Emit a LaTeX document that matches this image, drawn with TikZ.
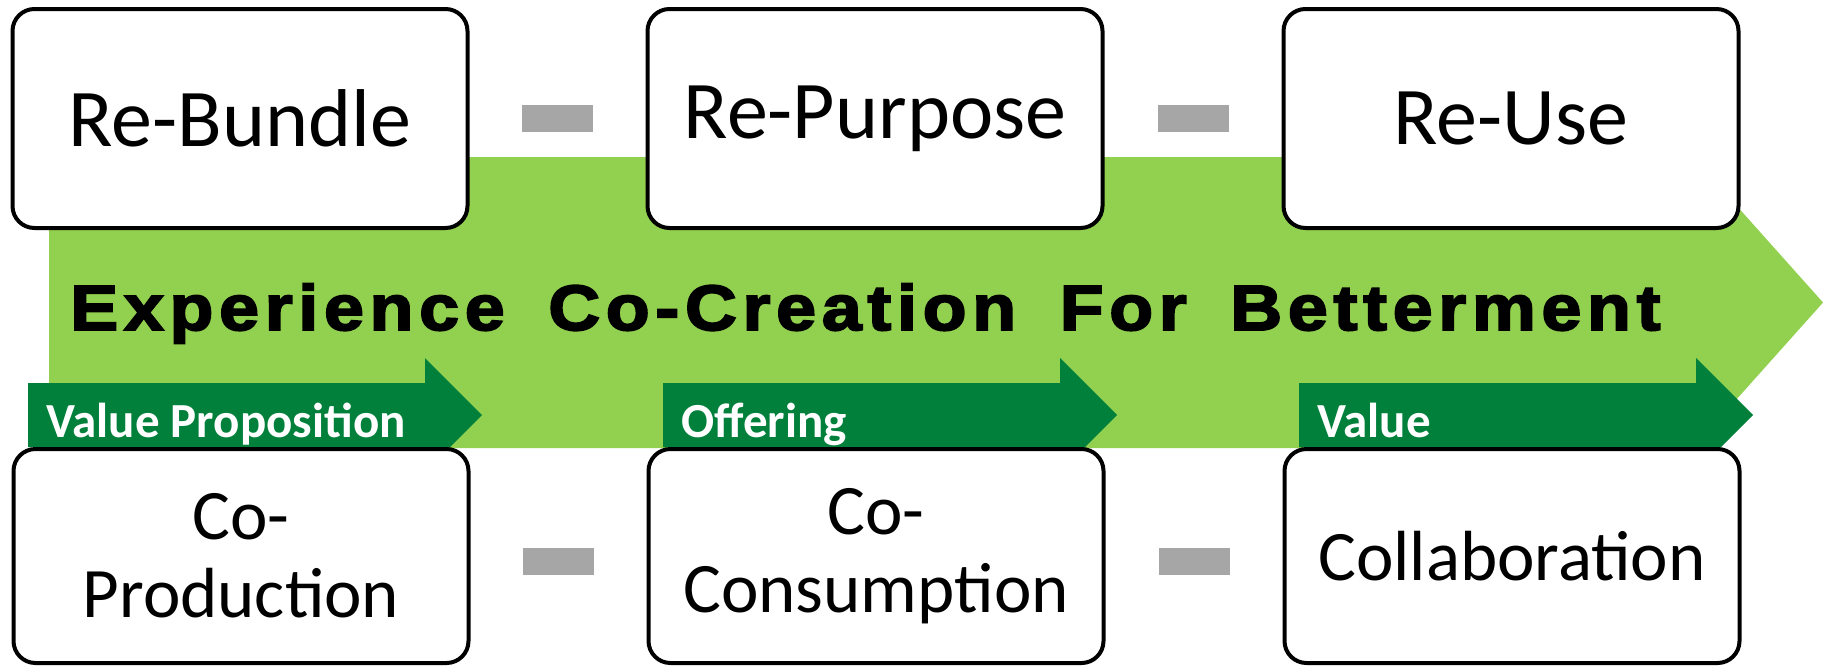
\documentclass[tikz,border=0pt]{standalone}
\usepackage{fontspec}
\setmainfont{Carlito}
\newfontfamily\bannerfont{Liberation Sans}[LetterSpace=9,WordSpace=1.7,FakeBold=3,FakeStretch=1.12]
\usetikzlibrary{calc}

\definecolor{lightgreen}{HTML}{92D050}
\definecolor{darkgreen}{HTML}{00803A}
\definecolor{dashgray}{HTML}{A6A6A6}

\tikzset{
    stage/.style={draw=black, line width=2pt, rounded corners=11pt, fill=white,
        minimum width=227.5pt, minimum height=109.5pt, inner sep=0pt, align=center},
    toprow/.style={stage, font=\fontsize{41}{45}\selectfont},
    botrow/.style={stage, minimum height=107pt, font=\fontsize{35.5}{39}\selectfont},
    gapbar/.style={fill=dashgray, minimum width=35.5pt, minimum height=13.5pt, inner sep=0pt},
    tag/.style={anchor=base west, inner sep=0pt, text=white, font=\fontsize{24.5}{27}\selectfont\bfseries}
}

\begin{document}
\begin{tikzpicture}[x=0.5pt, y=-0.5pt]
    \useasboundingbox (0,0) rectangle (1823,665);
    % big arrow in the background
    \fill[lightgreen] (49,157) -- (1693,157) -- (1823,302.5) -- (1693,448) -- (49,448) -- cycle;
    \node[anchor=base west, inner sep=0pt, font=\bannerfont\fontsize{32}{36}\selectfont\bfseries] (banner) at (70,330) {Experience Co-Creation For Betterment};
    % the three small arrows
    \fill[darkgreen] (28,383) -- (425,383) -- (425,358) -- (482,415) -- (425,472) -- (425,447) -- (28,447) -- cycle;
    \fill[darkgreen] (663,383) -- (1060,383) -- (1060,358) -- (1117,415) -- (1060,472) -- (1060,447) -- (663,447) -- cycle;
    \fill[darkgreen] (1299,383) -- (1696,383) -- (1696,358) -- (1753,415) -- (1696,472) -- (1696,447) -- (1299,447) -- cycle;
    \node[tag] (vp) at (46,437) {Value Proposition};
    \node[tag] (off) at (681,437) {Offering};
    \node[tag] (val) at (1317,437) {Value};
    % upper row
    \node[toprow] (rb) at (240,118.5) {Re-Bundle};
    \node[toprow] (rp) at (875,118.5) {Re-Purpose};
    \node[toprow] (ru) at (1511,118.5) {Re-Use};
    % lower row
    \node[botrow] (cp) at (241,556) {Co-\\Production};
    \node[botrow] (cc) at (876,556) {Co-\\Consumption};
    \node[botrow] (cl) at (1512,556) {Collaboration};
    % gray bars in between
    \node[gapbar] (g1) at ($(rb.east)!.5!(rp.west)$) {};
    \node[gapbar] (g2) at ($(rp.east)!.5!(ru.west)$) {};
    \node[gapbar] (g3) at ($(cp.east)!.5!(cc.west)+(0,5)$) {};
    \node[gapbar] (g4) at ($(cc.east)!.5!(cl.west)+(0,5)$) {};
\end{tikzpicture}
\end{document}
